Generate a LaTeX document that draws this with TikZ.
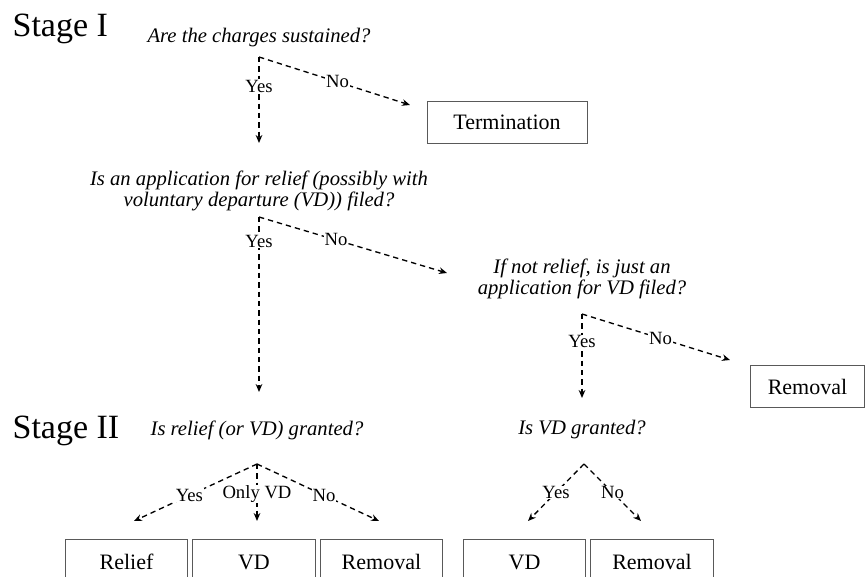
\documentclass[tikz,border=0pt]{standalone}
\usepackage{fontspec}
\setmainfont{Liberation Serif}
\usetikzlibrary{arrows.meta, positioning}

\begin{document}
\begin{tikzpicture}[x=0.75pt, y=-0.75pt, >={Stealth[length=6pt,width=5pt]},
  every node/.style={inner sep=1pt},
  stagename/.style={font=\fontsize{25.5}{28}\selectfont, anchor=west},
  question/.style={font=\fontsize{15.5}{16}\selectfont\itshape, align=center},
  outcome/.style={draw=black!65, line width=0.6pt, minimum width=92pt, font=\fontsize{16.5}{18}\selectfont},
  ans/.style={fill=white, font=\fontsize{14}{16}\selectfont, inner sep=0.5pt},
  branch/.style={->, line width=1pt, dash pattern=on 4pt off 3pt}]
\clip (0,0) rectangle (867,577);
% stage I
\node[stagename] (s1) at (11,29) {Stage I};
\node[question] (q1) at (259,38) {Are the charges sustained?};
\coordinate (f1) at (259,57);
\coordinate (y1) at (259,143);
\coordinate (n1) at (410,105);
\node[outcome, minimum width=120pt, minimum height=31.5pt] (term) at (507,122) {Termination};
\draw[branch] (f1) -- node[ans, pos=.34] {Yes} (y1);
\draw[branch] (f1) -- node[ans, pos=.52] {No} (n1);

\node[question] (q2) at (259,191) {Is an application for relief (possibly with\\voluntary departure (VD)) filed?};
\coordinate (f2) at (259,217);
\coordinate (y2) at (259,392);
\coordinate (n2) at (447,273);
\draw[branch] (f2) -- node[ans, pos=.14] {Yes} (y2);
\draw[branch] (f2) -- node[ans, pos=.41] {No} (n2);

\node[question] (q3) at (582,279) {If not relief, is just an\\application for VD filed?};
\coordinate (f3) at (582,314);
\coordinate (y3) at (582,398);
\coordinate (n3) at (730,360);
\node[outcome, minimum width=86pt, minimum height=32pt] (rem0) at (807.5,386.5) {Removal};
\draw[branch] (f3) -- node[ans, pos=.33] {Yes} (y3);
\draw[branch] (f3) -- node[ans, pos=.53] {No} (n3);

% stage II
\node[stagename] (s2) at (11,431) {Stage II};
\node[question] (q4) at (257,430) {Is relief (or VD) granted?};
\coordinate (f4) at (257,464);
\coordinate (a4) at (134,521);
\coordinate (b4) at (257,521);
\coordinate (c4) at (379,521);
\draw[branch] (f4) -- node[ans, pos=.55] {Yes} (a4);
\draw[branch] (f4) -- node[ans, pos=.53] {Only VD} (b4);
\draw[branch] (f4) -- node[ans, pos=.55] {No} (c4);
\node[outcome, minimum height=34.5pt] (relief) at (126.5,562) {Relief};
\node[outcome, minimum height=34.5pt, right=3pt of relief] (vd1) {VD};
\node[outcome, minimum height=34.5pt, right=3pt of vd1] (rem1) {Removal};

\node[question] (q5) at (582,430) {Is VD granted?};
\coordinate (f5) at (584,464);
\coordinate (a5) at (528,521);
\coordinate (b5) at (641,521);
\draw[branch] (f5) -- node[ans, pos=.5] {Yes} (a5);
\draw[branch] (f5) -- node[ans, pos=.5] {No} (b5);
\node[outcome, minimum height=34.5pt] (vd2) at (524.5,562) {VD};
\node[outcome, minimum height=34.5pt, right=3pt of vd2] (rem2) {Removal};
\end{tikzpicture}
\end{document}
